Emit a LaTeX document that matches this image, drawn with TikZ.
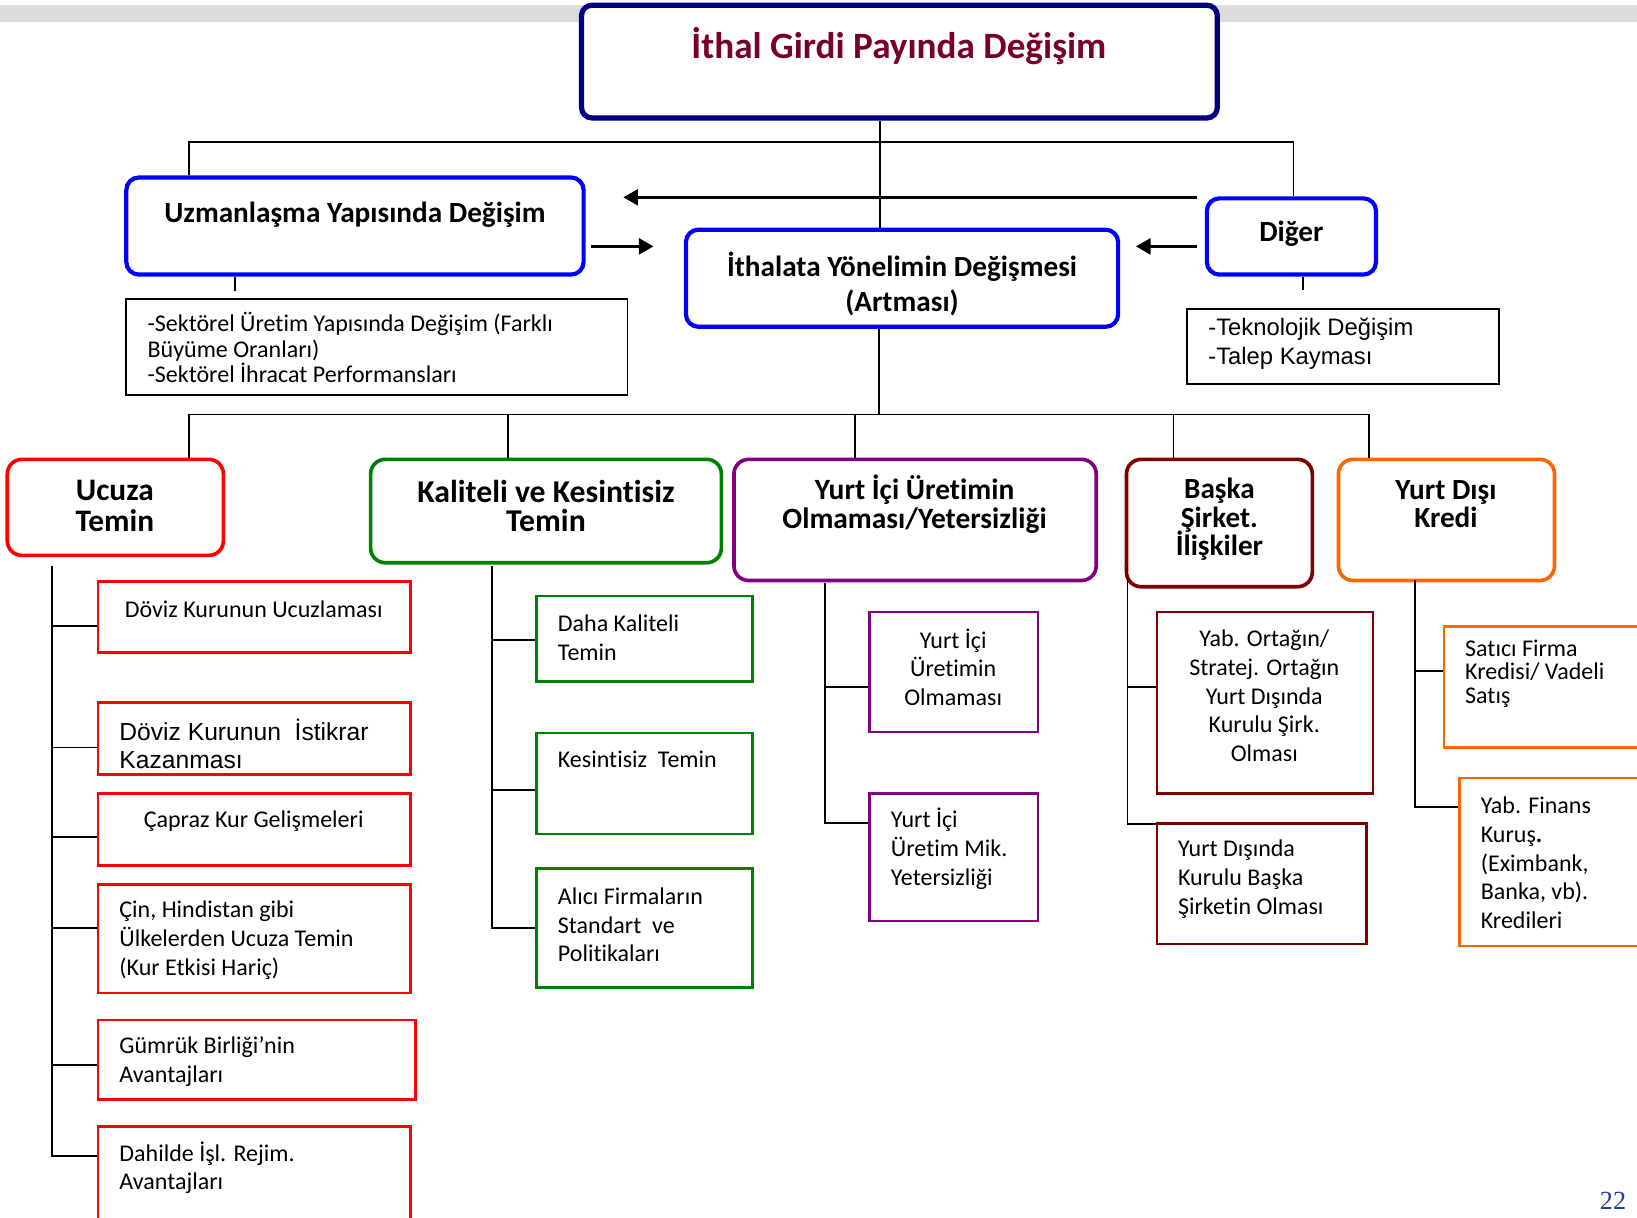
\documentclass[tikz,border=0pt]{standalone}
\usepackage{fontspec}
\setmainfont{Carlito}[Ligatures=CommonOff]
\newfontfamily\arialf{Liberation Sans}
\newfontfamily\seriff{Liberation Serif}
\usetikzlibrary{fit,arrows.meta}
\definecolor{navyb}{RGB}{0,0,128}
\definecolor{titlec}{RGB}{120,0,40}
\definecolor{gbar}{RGB}{221,221,221}
\definecolor{kgreen}{RGB}{0,128,0}
\definecolor{ypurple}{RGB}{128,0,128}
\definecolor{bred}{RGB}{128,0,0}
\definecolor{dorange}{RGB}{255,102,0}
\definecolor{pgblue}{RGB}{30,60,160}
\newcommand\myfs[2]{\fontsize{#1}{#2}\selectfont\lineskiplimit=-100pt\relax}
\begin{document}
\begin{tikzpicture}[x=0.5pt,y=-0.5pt,
 box/.style={inner sep=0pt},
 titlebox/.style={box, draw=navyb, fill=white, line width=2.5pt, rounded corners=5pt},
 bluebox/.style={box, draw=blue, line width=2pt, rounded corners=6pt},
 headbox/.style={box, line width=1.75pt, rounded corners=7pt},
 childbox/.style={box, line width=1.2pt},
 notebox/.style={box, draw=black, line width=0.9pt},
 conn/.style={line width=0.9pt, draw=black},
 arr/.style={line width=1.6pt, -{Triangle[length=7pt,width=7.5pt]}},
 reg/.style={font=\myfs{11.5}{13.75}, inner sep=0pt, yshift=-0.75pt},
 regl/.style={reg, anchor=west, align=left},
 regc/.style={reg, align=center},
 head/.style={font=\myfs{14}{14}\bfseries, align=center, inner sep=0pt, yshift=-1pt},
]
\useasboundingbox (0,0) rectangle (1568,1166);
% gray bar
\fill[gbar] (0,5) rectangle (1568,21);

% ---- top level boxes
\node[titlebox, fit={(557,5) (1166,113)}] (T) {};
\node[bluebox, fit={(121,170) (559,263)}] (U) {};
\node[bluebox, fit={(657,220) (1071,313)}] (I) {};
\node[bluebox, fit={(1156,190) (1318,263)}] (D) {};
\node[notebox, fit={(121,286) (601,378)}] (UN) {};
\node[notebox, fit={(1137,296) (1436,368)}] (DN) {};

\node[font=\myfs{17.8}{20}\bfseries, text=titlec, inner sep=0pt] (Tt) at (861,44) {İthal Girdi Payında Değişim};
\node[head] (Ut) at (340,204) {Uzmanlaşma Yapısında Değişim};
\node[head, font=\myfs{14}{17}\bfseries] (It) at (864,270) {İthalata Yönelimin Değişmesi\\(Artması)};
\node[head] (Dt) at (1237,222) {Diğer};
\node[regl, font=\myfs{11.5}{12.25}] (UNt) at (141,331.5) {-Sektörel Üretim Yapısında Değişim (Farklı\\Büyüme Oranları)\\-Sektörel İhracat Performansları};
\node[regl, font=\arialf\myfs{11.4}{14}] (DNt) at (1157,328) {-Teknolojik Değişim\\-Talep Kayması};

% ---- level 2 heads
\node[headbox, draw=red, fit={(7,440) (214,532)}] (UT) {};
\node[headbox, draw=kgreen, fit={(355,440) (691,539)}] (KT) {};
\node[headbox, draw=ypurple, fit={(703,440) (1050,556)}] (YT) {};
\node[headbox, draw=bred, fit={(1079,440) (1257,562)}] (BT) {};
\node[headbox, draw=dorange, fit={(1282,440) (1489,556)}] (DT) {};

\node[head, font=\myfs{15}{14.5}\bfseries] (UTt) at (110,482.5) {Ucuza\\Temin};
\node[head, font=\myfs{15.2}{14}\bfseries] (KTt) at (523,483) {Kaliteli ve Kesintisiz\\Temin};
\node[head, font=\myfs{14.1}{14}\bfseries] (YTt) at (876,481) {Yurt İçi Üretimin\\Olmaması/Yetersizliği};
\node[head, font=\myfs{14}{13.75}\bfseries] (BTt) at (1168,495.5) {Başka\\Şirket.\\İlişkiler};
\node[head, font=\myfs{14}{13.5}\bfseries] (DTt) at (1385,480.5) {Yurt Dışı\\Kredi};

% ---- children
\node[childbox, draw=red, fit={(94,557) (393,625)}] (U1) {};
\node[childbox, draw=red, fit={(94,673) (393,742)}] (U2) {};
\node[childbox, draw=red, fit={(94,760) (393,829)}] (U3) {};
\node[childbox, draw=red, fit={(94,847) (393,951)}] (U4) {};
\node[childbox, draw=red, fit={(94,977) (398,1053)}] (U5) {};
\node[childbox, draw=red, fit={(94,1079) (393,1190)}] (U6) {};

\node[childbox, draw=kgreen, fit={(514,571) (721,653)}] (K1) {};
\node[childbox, draw=kgreen, fit={(514,702) (721,799)}] (K2) {};
\node[childbox, draw=kgreen, fit={(514,832) (721,946)}] (K3) {};

\node[childbox, draw=ypurple, fit={(833,586) (994,701)}] (Y1) {};
\node[childbox, draw=ypurple, fit={(833,760) (994,882)}] (Y2) {};

\node[childbox, draw=bred, fit={(1108,586) (1315,760)}] (B1) {};
\node[childbox, draw=bred, fit={(1108,789) (1309,904)}] (B2) {};

\node[childbox, draw=dorange, fit={(1383,600) (1590,716)}] (D1) {};
\node[childbox, draw=dorange, fit={(1398,745) (1590,906)}] (D2) {};

\node[reg] (U1t) at (243,582) {Döviz Kurunun Ucuzlaması};
\node[regl, font=\arialf\myfs{11.8}{13.5}] (U2t) at (114,711) {Döviz Kurunun\ \ İstikrar\\Kazanması};
\node[reg] (U3t) at (243,785) {Çapraz Kur Gelişmeleri};
\node[regl] (U4t) at (114,899) {Çin, Hindistan gibi\\Ülkelerden Ucuza Temin\\(Kur Etkisi Hariç)};
\node[regl] (U5t) at (114,1015) {Gümrük Birliği’nin\\Avantajları};
\node[regl] (U6t) at (114,1117) {Dahilde İşl. Rejim.\\Avantajları};

\node[regl] (K1t) at (534,609.5) {Daha Kaliteli\\Temin};
\node[regl] (K2t) at (534,726) {Kesintisiz\ \ Temin};
\node[regl] (K3t) at (534,884.5) {Alıcı Firmaların\\Standart\ \ ve\\Politikaları};

\node[regc] (Y1t) at (913,637.5) {Yurt İçi\\Üretimin\\Olmaması};
\node[regl] (Y2t) at (853,811.5) {Yurt İçi\\Üretim Mik.\\Yetersizliği};

\node[regc] (B1t) at (1211,665) {Yab. Ortağın/\\Stratej. Ortağın\\Yurt Dışında\\Kurulu Şirk.\\Olması};
\node[regl] (B2t) at (1128,840.5) {Yurt Dışında\\Kurulu Başka\\Şirketin Olması};

\node[regl, font=\myfs{11.5}{11.25}] (D1t) at (1403,643.5) {Satıcı Firma\\Kredisi/ Vadeli\\Satış};
\node[regl] (D2t) at (1418,825) {Yab. Finans\\Kuruş\textbf{.}\\(Eximbank,\\Banka, vb).\\Kredileri};

\node[font=\seriff\myfs{12.5}{12.5}, text=pgblue, inner sep=0pt] (pg) at (1545,1150) {22};

% ---- connectors, top
\coordinate (bL) at (181,136);
\coordinate (bR) at (1239,136);
\coordinate (bC) at (843,136);
\draw[conn] (U.north -| bL) -- (bL) -- (bR) -- (D.north -| bR);
\draw[conn] (T.south -| bC) -- (I.north -| bC);

\coordinate (tk1) at (225,279);
\draw[conn] (U.south -| tk1) -- (tk1);
\coordinate (tk2) at (1248,278);
\draw[conn] (D.south -| tk2) -- (tk2);

% arrows
\coordinate (a1s) at (1147,189); \coordinate (a1e) at (597,189);
\coordinate (a2s) at (566,236);  \coordinate (a2e) at (626,236);
\coordinate (a3s) at (1147,236); \coordinate (a3e) at (1088,236);
\draw[arr] (a1s) -- (a1e);
\draw[arr] (a2s) -- (a2e);
\draw[arr] (a3s) -- (a3e);

% level 2 bus
\coordinate (cL) at (181,397);
\coordinate (cR) at (1311,397);
\coordinate (cI) at (842,397);
\coordinate (cK) at (487,397);
\coordinate (cY) at (819,397);
\coordinate (cB) at (1124,397);
\draw[conn] (I.south -| cI) -- (cI);
\draw[conn] (UT.north -| cL) -- (cL) -- (cR) -- (DT.north -| cR);
\draw[conn] (cK) -- (KT.north -| cK);
\draw[conn] (cY) -- (YT.north -| cY);
\draw[conn] (cB) -- (BT.north -| cB);

% trunks and branches
\coordinate (tU) at (50,542);  \coordinate (tUb) at (50,1107);
\draw[conn] (tU) -- (tUb) -- (U6.west |- tUb);
\foreach \n/\yy in {U1/600,U2/716,U3/802,U4/889,U5/1020}
  \draw[conn] (tU |- 0,\yy) -- (\n.west |- 0,\yy);

\coordinate (tK) at (471,542);  \coordinate (tKb) at (471,889);
\draw[conn] (tK) -- (tKb) -- (K3.west |- tKb);
\foreach \n/\yy in {K1/613,K2/757}
  \draw[conn] (tK |- 0,\yy) -- (\n.west |- 0,\yy);

\coordinate (tY) at (790,558);  \coordinate (tYb) at (790,788);
\draw[conn] (tY) -- (tYb) -- (Y2.west |- tYb);
\draw[conn] (tY |- 0,658) -- (Y1.west |- 0,658);

\coordinate (tB) at (1080,541);  \coordinate (tBb) at (1080,789);
\draw[conn] (tB) -- (tBb) -- (B2.west |- tBb);
\draw[conn] (tB |- 0,658) -- (B1.west |- 0,658);

\coordinate (tD) at (1355,556);  \coordinate (tDb) at (1355,773);
\draw[conn] (tD) -- (tDb) -- (D2.west |- tDb);
\draw[conn] (tD |- 0,643) -- (D1.west |- 0,643);
\end{tikzpicture}
\end{document}
